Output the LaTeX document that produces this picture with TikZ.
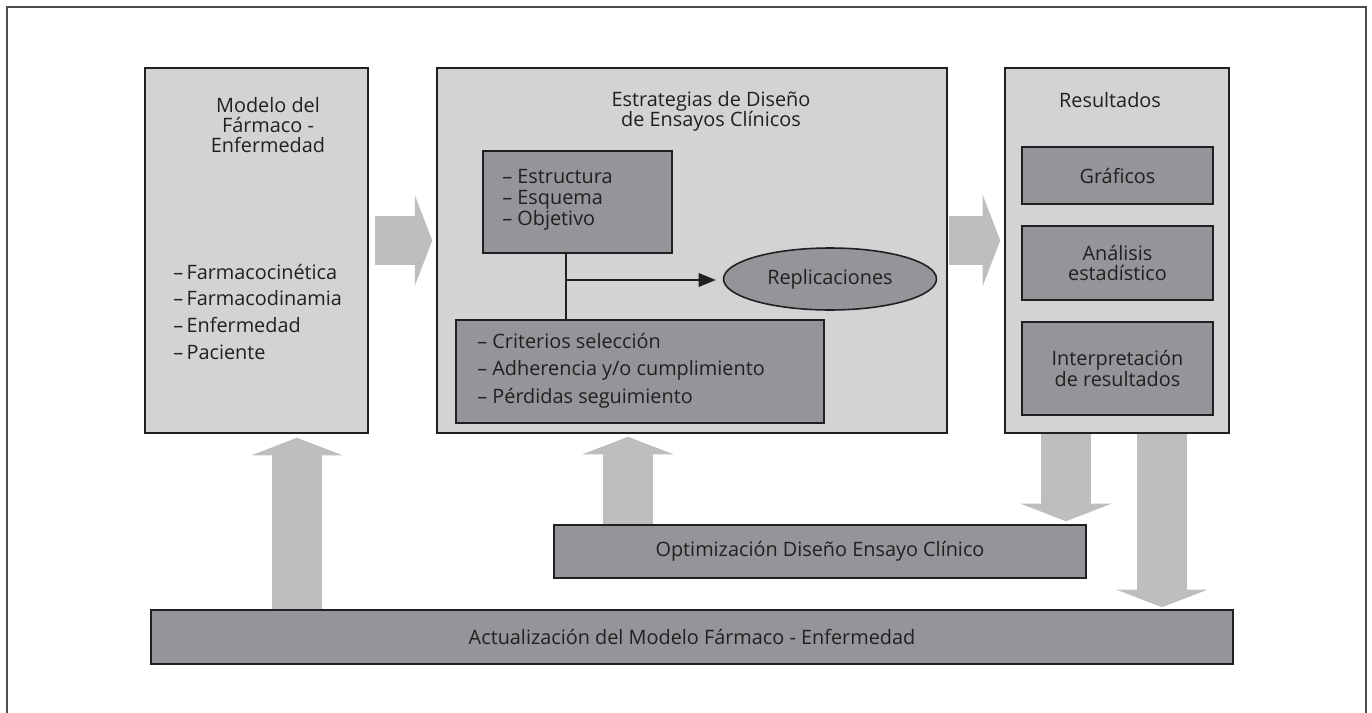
\documentclass[tikz,border=0pt]{standalone}
\usepackage{fontspec}
\setmainfont{Open Sans}
\usetikzlibrary{arrows.meta,shapes.geometric}

\definecolor{gclaro}{HTML}{D1D3D4}
\definecolor{goscuro}{HTML}{939598}
\definecolor{gflecha}{HTML}{BCBEC0}
\definecolor{gtexto}{HTML}{231F20}

\begin{document}
\begin{tikzpicture}[x=0.02cm,y=-0.02cm,
	caja/.style={draw=gtexto,line width=0.9pt,inner sep=0pt,text=gtexto,font=\fontsize{11.3}{11.8}\selectfont,align=center},
	clara/.style={caja,fill=gclaro},
	oscura/.style={caja,fill=goscuro},
	texto/.style={inner sep=0pt,text=gtexto},
	gorda/.style={draw=gflecha,line width=1cm,-{Triangle[width=1.82cm,length=0.35cm,line width=0pt]}},
	rama/.style={draw=gtexto,line width=1.6pt}]
	
	\useasboundingbox (0,0) rectangle (1372,713);
	
	\draw [gtexto!80, line width=0.6pt] (7,713) -- (7,7) -- (1366,7) -- (1366,713);
	
	\node [clara, minimum width=4.46cm, minimum height=7.3cm] (modelo) at (256.5,250.5) {};
	
	\node [clara, minimum width=10.2cm, minimum height=7.3cm] (estrategias) at (692,250.5) {};
	
	\node [clara, minimum width=4.48cm, minimum height=7.3cm] (resultados) at (1117,250.5) {};
	
	\node [texto, align=center, anchor=base, font=\fontsize{11.3}{11.6}\selectfont] at (268,153) {Modelo del\\Fármaco -\\Enfermedad};
	\node [texto, align=left, anchor=base west, font=\fontsize{11.3}{15.1}\selectfont] at (173,359) {–\,Farmacocinética\\–\,Farmacodinamia\\–\,Enfermedad\\–\,Paciente};
	
	\node [texto, align=center, anchor=base, font=\fontsize{11.3}{11.9}\selectfont] at (711,127) {Estrategias de Diseño\\de Ensayos Clínicos};
	
	\node [oscura, minimum width=3.78cm, minimum height=2.04cm] (estructura) at (577.5,202) {};
	\node [texto, align=left, anchor=base west, font=\fontsize{11.3}{11.9}\selectfont] at (502,225) {– Estructura\\– Esquema\\– Objetivo};
	
	\node [oscura, minimum width=7.36cm, minimum height=2.06cm] (criterios) at (640,371.5) {};
	\node [texto, align=left, anchor=base west, font=\fontsize{11.3}{15.6}\selectfont] at (477,403) {– Criterios selección\\– Adherencia y/o cumplimiento\\– Pérdidas seguimiento};
	
	\node [oscura, ellipse, minimum width=4.26cm, minimum height=1.24cm] (replica) at (830,279) {Replicaciones};
	
	\coordinate (cruce) at (566,280);
	\draw [rama] (cruce |- estructura.south) -- (cruce |- criterios.north);
	\draw [rama, -{Triangle[length=0.34cm,width=0.28cm,line width=0pt]}, shorten >=0.14cm] (cruce) -- (cruce -| replica.west);
	
	\node [texto, anchor=base, font=\fontsize{11.3}{11.8}\selectfont] at (1110,108) {Resultados};
	
	\node [oscura, minimum width=3.82cm, minimum height=1.14cm] (graficos) at (1117.5,175.5) {Gráficos};
	\node [oscura, minimum width=3.82cm, minimum height=1.48cm] (analisis) at (1117.5,263) {Análisis\\estadístico};
	\node [oscura, minimum width=3.82cm, minimum height=1.86cm] (interpreta) at (1117.5,368.5) {Interpretación\\de resultados};
	
	\node [oscura, minimum width=10.64cm, minimum height=1.06cm] (optimiza) at (820,551.5) {Optimización Diseño Ensayo Clínico};
	
	\node [oscura, minimum width=21.64cm, minimum height=1.08cm] (actualiza) at (692,637) {Actualización del Modelo Fármaco - Enfermedad};
	
	\draw [gorda] ([shift={(6,-10)}]modelo.east) -- ([shift={(-4,-10)}]estrategias.west);
	\draw [gorda] ([shift={(1,-10)}]estrategias.east) -- ([shift={(-4,-10)}]resultados.west);
	
	\coordinate (sube1) at ([shift={(40.5,4)}]modelo.south);
	\draw [gorda] (sube1 |- actualiza.north) -- (sube1);
	
	\coordinate (sube2) at ([shift={(-64,3)}]estrategias.south);
	\draw [gorda] (sube2 |- optimiza.north) -- (sube2);
	
	\coordinate (baja1) at ([xshift=-1.02cm]resultados.south);
	\coordinate (llega1) at (baja1 |- optimiza.north);
	\draw [gorda] (baja1) -- ([yshift=0.06cm]llega1);
	
	\coordinate (baja2) at ([xshift=0.9cm]resultados.south);
	\coordinate (llega2) at (baja2 |- actualiza.north);
	\draw [gorda] (baja2) -- ([yshift=0.04cm]llega2);
	
\end{tikzpicture}
\end{document}
